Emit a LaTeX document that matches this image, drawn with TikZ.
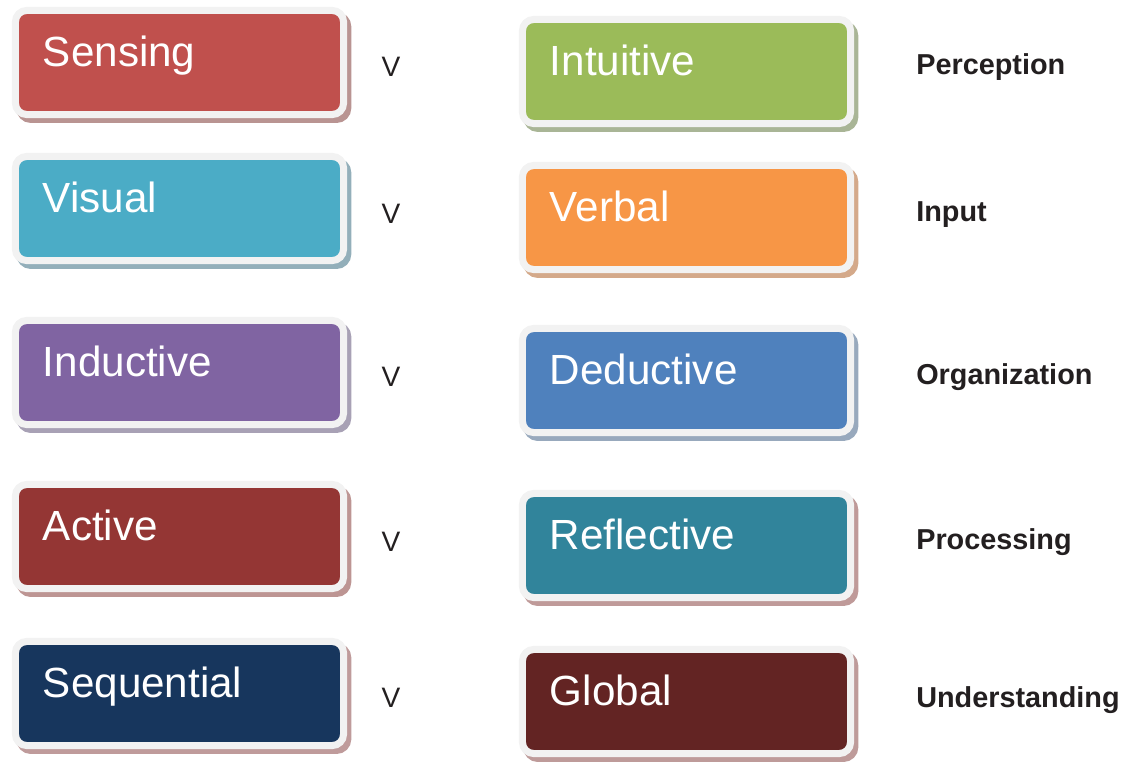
\documentclass[tikz,border=0pt]{standalone}
\usepackage{fontspec}
\setmainfont{Liberation Sans}
\usetikzlibrary{shadows}

\definecolor{frame}{HTML}{F2F2F2}
\definecolor{sensing}{HTML}{C0504D}
\definecolor{sensingsh}{HTML}{B99492}
\definecolor{intuitive}{HTML}{9BBB59}
\definecolor{intuitivesh}{HTML}{A9B596}
\definecolor{visual}{HTML}{4BACC6}
\definecolor{visualsh}{HTML}{93AFBA}
\definecolor{verbal}{HTML}{F79646}
\definecolor{verbalsh}{HTML}{D4A98A}
\definecolor{inductive}{HTML}{8064A2}
\definecolor{inductivesh}{HTML}{A8A1B5}
\definecolor{deductive}{HTML}{4F81BD}
\definecolor{deductivesh}{HTML}{98A9BD}
\definecolor{active}{HTML}{943634}
\definecolor{activesh}{HTML}{BD9593}
\definecolor{reflective}{HTML}{31849B}
\definecolor{reflectivesh}{HTML}{BF9A99}
\definecolor{sequential}{HTML}{17365D}
\definecolor{sequentialsh}{HTML}{BF9B9B}
\definecolor{global}{HTML}{632423}
\definecolor{globalsh}{HTML}{BE9B9A}
\definecolor{ink}{HTML}{231F20}

\begin{document}
\begin{tikzpicture}[x=0.025cm,y=-0.025cm,
    box/.style={rounded corners=8pt, draw=frame, line width=5pt, fill=#1,
      drop shadow={shadow xshift=3pt, shadow yshift=-3.5pt, fill=#1sh, draw=#1sh,
        line width=5pt, opacity=1},
      text=white, font=\fontsize{30}{36}\selectfont, align=left,
      text width=194.2pt, inner xsep=19.56pt, inner ysep=0pt,
      text height=39.5pt, text depth=34.5pt},
    vs/.style={anchor=base, inner sep=0pt, text=ink, font=\fontsize{20}{24}\selectfont},
    dim/.style={anchor=base west, inner sep=0pt, text=ink, font=\bfseries\fontsize{20.5}{24}\selectfont}]
  \useasboundingbox (0,0) rectangle (1141,761);

  \node[box=sensing] (sensing) at (179.5,62.5) {Sensing};
  \node[box=visual] (visual) at (179.5,208.5) {Visual};
  \node[box=inductive] (inductive) at (179.5,372.5) {Inductive};
  \node[box=active] (active) at (179.5,536.5) {Active};
  \node[box=sequential] (sequential) at (179.5,693.5) {Sequential};

  \node[box=intuitive] (intuitive) at (686.5,71.5) {Intuitive};
  \node[box=verbal] (verbal) at (686.5,217.5) {Verbal};
  \node[box=deductive] (deductive) at (686.5,380.5) {Deductive};
  \node[box=reflective] (reflective) at (686.5,545.5) {Reflective};
  \node[box=global] (global) at (686.5,701.5) {Global};

  \node[vs] (v1) at (391,77) {V};
  \node[vs] (v2) at (391,223) {V};
  \node[vs] (v3) at (391,386) {V};
  \node[vs] (v4) at (391,551) {V};
  \node[vs] (v5) at (391,707) {V};

  \node[dim] (perception) at (916,75) {Perception};
  \node[dim] (input) at (916,222) {Input};
  \node[dim] (organization) at (916,384) {Organization};
  \node[dim] (processing) at (916,549) {Processing};
  \node[dim] (understanding) at (916,707) {Understanding};
\end{tikzpicture}
\end{document}
